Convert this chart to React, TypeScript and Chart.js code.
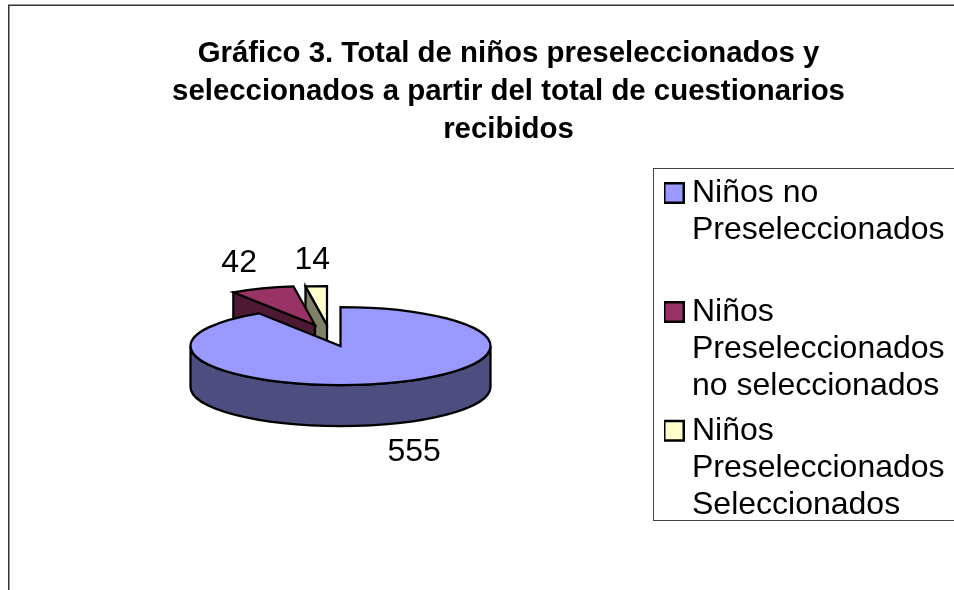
import { useEffect, useRef } from "react";
import { Chart, registerables } from "chart.js";

Chart.register(...registerables);

const FONT = "'Liberation Sans', Arial, sans-serif";

const titleLines = [
  "Gráfico 3. Total de niños preseleccionados y",
  "seleccionados a partir del total de cuestionarios",
  "recibidos",
];
const categories = [
  ["Niños no", "Preseleccionados", ""],
  ["Niños", "Preseleccionados", "no seleccionados"],
  ["Niños", "Preseleccionados", "Seleccionados"],
];
const values = [555, 42, 14];
const topColors = ["#9999FF", "#993366", "#FFFFCC"];
const sideColors = ["#4D4D80", "#4D1933", "#808066"];

// Display settings of the tilted pie
const pieCenter = { x: 340.5, y: 346 };
const pieRadius = 150;
const tilt = 0.26;
const depth = 41;
const explode = [
  { x: 0, y: 0 },
  { x: -25.5, y: -21 },
  { x: -13.5, y: -21 },
];
const labelNudge = [
  { x: 31, y: 68.5 },
  { x: -23, y: -25 },
  { x: -4, y: -26 },
];

const pie3d = {
  id: "pie3d",
  beforeDatasetDraw(chart: any) {
    const ctx = chart.ctx;
    const arcs = chart.getDatasetMeta(0).data;
    const rx = pieRadius;
    const ry = pieRadius * tilt;
    const at = (i: number) => ({ x: pieCenter.x + explode[i].x, y: pieCenter.y + explode[i].y });

    const outline = () => {
      ctx.lineWidth = 2.25;
      ctx.lineJoin = "miter";
      ctx.strokeStyle = "#000";
      ctx.stroke();
    };

    const drawWall = (i: number) => {
      const c = at(i);
      const a = arcs[i].startAngle;
      const px = Math.cos(a) * rx;
      const py = Math.sin(a) * ry;
      ctx.beginPath();
      ctx.moveTo(c.x, c.y);
      ctx.lineTo(c.x + px, c.y + py);
      ctx.lineTo(c.x + px, c.y + py + depth);
      ctx.lineTo(c.x, c.y + depth);
      ctx.closePath();
      ctx.fillStyle = sideColors[i];
      ctx.fill();
      outline();
    };

    const drawTop = (i: number) => {
      const c = at(i);
      const el = arcs[i];
      ctx.save();
      ctx.translate(c.x, c.y);
      ctx.scale(1, tilt);
      ctx.translate(-el.x, -el.y);
      el.draw(ctx);
      ctx.restore();
      ctx.beginPath();
      ctx.moveTo(c.x, c.y);
      ctx.ellipse(c.x, c.y, rx, ry, 0, el.startAngle, el.endAngle);
      ctx.closePath();
      outline();
    };

    const drawRim = (i: number) => {
      const c = at(i);
      ctx.beginPath();
      ctx.ellipse(c.x, c.y, rx, ry, 0, 0, Math.PI);
      ctx.lineTo(c.x - rx, c.y + depth);
      ctx.ellipse(c.x, c.y + depth, rx, ry, 0, Math.PI, 0, true);
      ctx.closePath();
      ctx.fillStyle = sideColors[i];
      ctx.fill();
      outline();
    };

    drawWall(2);
    drawTop(2);
    drawWall(1);
    drawTop(1);
    drawRim(0);
    drawTop(0);
    return false;
  },
  afterDatasetsDraw(chart: any) {
    const ctx = chart.ctx;
    const arcs = chart.getDatasetMeta(0).data;
    ctx.save();
    ctx.fillStyle = "#000";
    ctx.font = `32px ${FONT}`;
    ctx.textAlign = "center";
    ctx.textBaseline = "middle";
    arcs.forEach((el: any, i: number) => {
      const mid = (el.startAngle + el.endAngle) / 2;
      const x = pieCenter.x + explode[i].x + Math.cos(mid) * pieRadius + labelNudge[i].x;
      const y = pieCenter.y + explode[i].y + Math.sin(mid) * pieRadius * tilt + labelNudge[i].y;
      ctx.fillText(String(values[i]), x, y);
    });
    ctx.restore();
  },
  afterLayout(chart: any) {
    const lg = chart.legend;
    lg.left = 664;
    lg.top = 169;
    lg.bottom = 590;
  },
  afterDraw(chart: any) {
    const ctx = chart.ctx;
    ctx.save();
    ctx.strokeStyle = "#333";
    ctx.lineWidth = 1.5;
    ctx.strokeRect(8.75, 5.25, 1200, 800);
    ctx.lineWidth = 1;
    ctx.strokeStyle = "#444";
    ctx.strokeRect(653.5, 168.5, 500, 352);
    ctx.restore();
  },
};

export default function App() {
  const ref = useRef<HTMLCanvasElement>(null);
  useEffect(() => {
    const chart = new Chart(ref.current as HTMLCanvasElement, {
      type: "pie",
      data: {
        labels: categories as any,
        datasets: [
          {
            data: values,
            backgroundColor: topColors,
            borderWidth: 0,
          },
        ],
      },
      options: {
        responsive: false,
        animation: false,
        radius: pieRadius,
        rotation: 0,
        events: [],
        plugins: {
          tooltip: { enabled: false },
          title: {
            display: true,
            text: titleLines,
            color: "#000",
            font: { family: FONT, size: 29.4, weight: "bold", lineHeight: 1.3 },
            padding: { top: 34.5, bottom: 10 },
          },
          legend: {
            position: "right",
            align: "start",
            labels: {
              color: "#000",
              font: { family: FONT, size: 32, lineHeight: 1.155 },
              usePointStyle: true,
              pointStyle: "rect",
              boxWidth: 4,
              boxHeight: 19.5,
              padding: 8,
              generateLabels: () =>
                categories.map((text, i) => ({
                  text,
                  fillStyle: topColors[i],
                  strokeStyle: "#000",
                  lineWidth: 2.5,
                  pointStyle: "rect",
                  index: i,
                })),
            } as any,
          },
        },
      } as any,
      plugins: [pie3d],
    });
    return () => chart.destroy();
  }, []);
  return (
    <div style={{ position: "fixed", left: 0, top: 0, width: 954, height: 590, overflow: "hidden", background: "#fff" }}>
      <canvas ref={ref} width={1017} height={590} style={{ display: "block" }} />
    </div>
  );
}
